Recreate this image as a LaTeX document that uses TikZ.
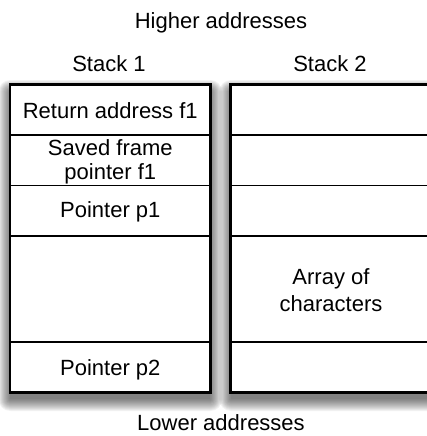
\documentclass[tikz,border=0pt]{standalone}
\usepackage{fontspec}
\setmainfont{Liberation Sans}
\begin{document}
\begin{tikzpicture}[x=1pt,y=-1pt,
  lbl/.style={font=\fontsize{22}{26}\selectfont, inner sep=0, anchor=base},
  multi/.style={font=\fontsize{22}{#1}\selectfont, inner sep=0, anchor=north, align=center},
  frame/.style={draw=black, line width=1.8pt, fill=white, minimum width=200pt, inner sep=0},
  cell/.style={draw=black, line width=1.6pt, minimum width=200pt, inner sep=0},
  shade layer/.style={fill=black, fill opacity=0.052, draw=none},
]
\useasboundingbox (0,0) rectangle (426,436);
\node[lbl] (hi) at (221,29) {Higher addresses};
\node[lbl] (st1) at (109,71) {Stack 1};
\node[lbl] (st2) at (330,71) {Stack 2};
\node[lbl] (lo) at (221,430) {Lower addresses};

% soft drop shadows
\foreach \e in {0,...,12} {
  \fill[shade layer, rounded corners={\e pt}] ({10.3-\e},{92-\e}) rectangle ({210.3+\e},{399+\e});
  \fill[shade layer, rounded corners={\e pt}] ({231-\e},{92-\e}) rectangle ({431+\e},{399+\e});
}

\node[frame, minimum height=307pt] (s1) at (110.3,238.5) {};
\node[frame, minimum height=307pt] (s2) at (331,238.5) {};

\node[cell, minimum height=50pt] (a1) at (110.3,110) {};
\node[cell, minimum height=50.5pt] (a2) at (110.3,160.3) {};
\node[cell, minimum height=50.5pt] (a3) at (110.3,210.8) {};
\node[cell, minimum height=106pt] (a4) at (110.3,289) {};
\node[cell, minimum height=50pt] (a5) at (110.3,367) {};

\node[cell, minimum height=50pt] (b1) at (331,110) {};
\node[cell, minimum height=50.5pt] (b2) at (331,160.3) {};
\node[cell, minimum height=50.5pt] (b3) at (331,210.8) {};
\node[cell, minimum height=106pt] (b4) at (331,289) {};
\node[cell, minimum height=50pt] (b5) at (331,367) {};

\node[lbl] (t1) at (110.3,118) {Return address f1};
\node[multi=24.5] (t2) at (110.3,139) {Saved frame\\pointer f1};
\node[lbl] (t3) at (110.3,217.5) {Pointer p1};
\node[lbl] (t5) at (110.3,375) {Pointer p2};
\node[multi=27] (t4) at (331,268) {Array of\\characters};

\draw[line width=1.8pt] (s1.north west) rectangle (s1.south east);
\draw[line width=1.8pt] (s2.north west) rectangle (s2.south east);
\end{tikzpicture}
\end{document}
